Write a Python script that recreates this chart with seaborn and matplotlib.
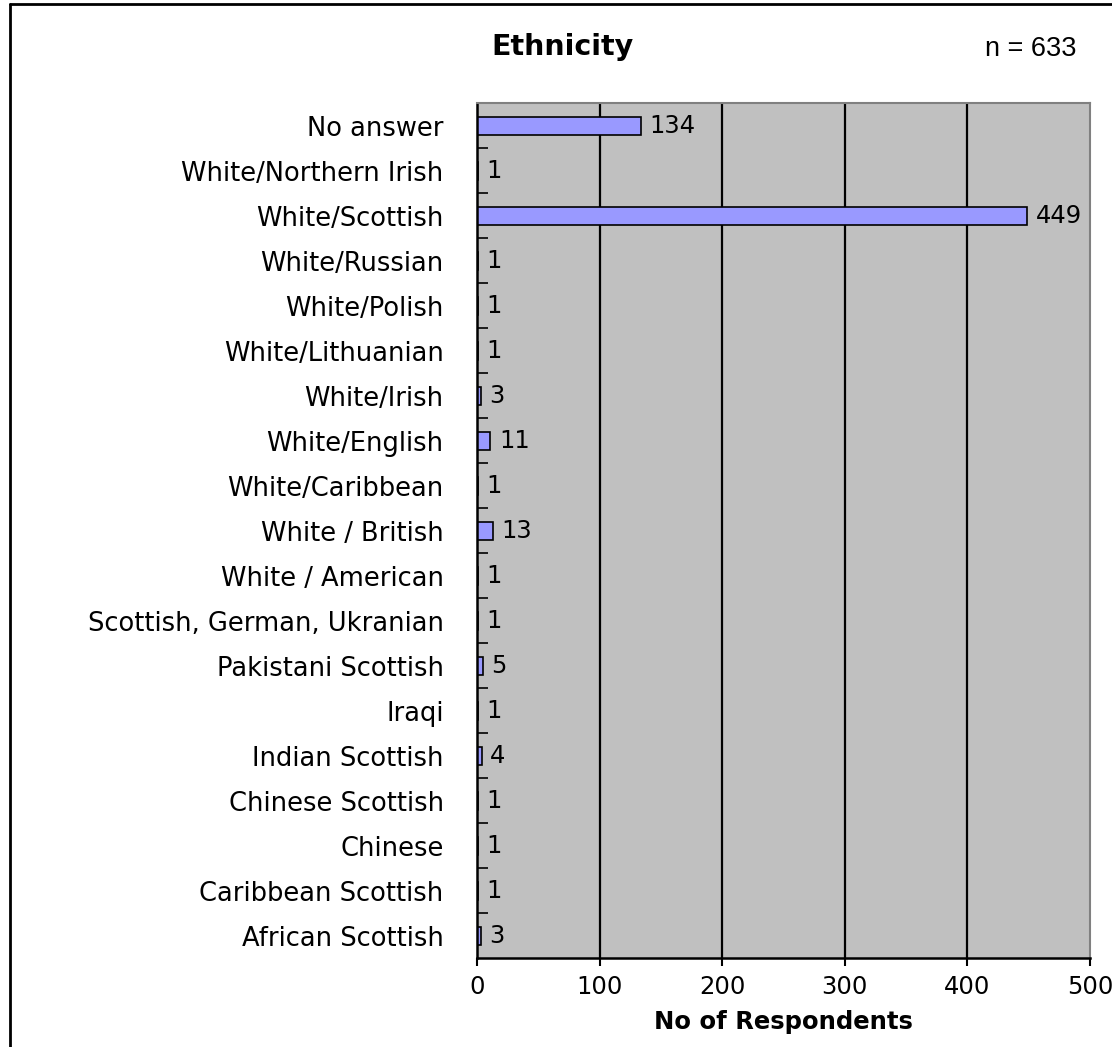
import matplotlib
matplotlib.use("Agg")
import matplotlib.pyplot as plt
import seaborn as sns
import pandas as pd
from matplotlib.lines import Line2D

categories = [
    "No answer", "White/Northern Irish", "White/Scottish", "White/Russian",
    "White/Polish", "White/Lithuanian", "White/Irish", "White/English",
    "White/Caribbean", "White / British", "White / American",
    "Scottish, German, Ukranian", "Pakistani Scottish", "Iraqi",
    "Indian Scottish", "Chinese Scottish", "Chinese", "Caribbean Scottish",
    "African Scottish",
]
respondents = [134, 1, 449, 1, 1, 1, 3, 11, 1, 13, 1, 1, 5, 1, 4, 1, 1, 1, 3]
x_ticks = [0, 100, 200, 300, 400, 500]
title = "Ethnicity"
n_text = "n = 633"

df = pd.DataFrame({"ethnicity": categories, "count": respondents})

sns.set_theme(style="white")
plt.rcParams['font.family'] = ['DejaVu Sans']
plt.rcParams['text.color'] = 'black'
plt.rcParams['axes.labelcolor'] = 'black'
plt.rcParams['xtick.color'] = 'black'
plt.rcParams['ytick.color'] = 'black'

fig = plt.figure(figsize=(11.12, 10.47), dpi=100)
ax = fig.add_axes([477 / 1112, 1 - 958 / 1047, 613 / 1112, 855 / 1047])
ax.set_facecolor('#c0c0c0')

sns.barplot(data=df, x="count", y="ethnicity", orient="h", order=categories,
            color="#9999ff", edgecolor="black", linewidth=1.2, width=0.4,
            saturation=1, ax=ax)

ax.set_xlim(0, 500)
ax.set_ylim(len(categories) - 0.5, -0.5)
ax.set_xticks(x_ticks)
ax.set_xticklabels([str(t) for t in x_ticks], fontsize=17.5)
for t in x_ticks[1:-1]:
    ax.axvline(t, color='black', lw=1.6, zorder=0.5)

# y ticks on category boundaries, labels centred on bars
ax.set_yticks([i + 0.5 for i in range(len(categories) - 1)], minor=True)
ax.set_yticks(range(len(categories)))
ax.set_yticklabels(categories, fontsize=18.5)
ax.tick_params(axis='y', which='major', length=0, pad=24)
ax.tick_params(axis='y', which='minor', direction='in', length=8, width=1.2,
               color='black', left=True)
ax.tick_params(axis='x', which='major', direction='out', length=6, width=1.5,
               color='black', bottom=True, pad=6)

ax.set_xlabel("No of Respondents", fontsize=17.5, fontweight='bold', labelpad=8)
ax.set_ylabel("")

ax.bar_label(ax.containers[0], padding=6, fontsize=17.5)

for s in ['left', 'bottom']:
    ax.spines[s].set_color('black')
    ax.spines[s].set_linewidth(1.8)
for s in ['top', 'right']:
    ax.spines[s].set_color('#808080')
    ax.spines[s].set_linewidth(1.5)

fig.text(562 / 1112, 1 - 47 / 1047, title, fontsize=20.5, fontweight='bold',
         ha='center', va='center')
fig.text(1031 / 1112, 1 - 49 / 1047, n_text, fontsize=19.5,
         family=['Liberation Sans', 'DejaVu Sans'],
         ha='center', va='center')

# outer frame (left and top edges visible)
fig.add_artist(Line2D([10 / 1112, 10 / 1112], [0, 1 - 4 / 1047],
                      transform=fig.transFigure, color='black', lw=2))
fig.add_artist(Line2D([10 / 1112, 1], [1 - 4 / 1047, 1 - 4 / 1047],
                      transform=fig.transFigure, color='black', lw=2))

fig.savefig("out.png", dpi=100)
